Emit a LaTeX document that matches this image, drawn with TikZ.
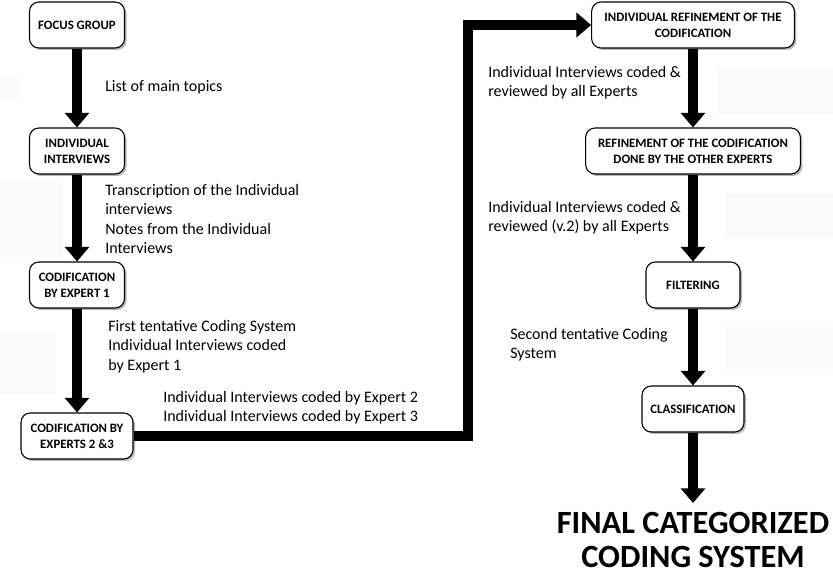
\documentclass[tikz,border=0pt]{standalone}
\usepackage{fontspec}
\setmainfont{Carlito}
\usetikzlibrary{arrows.meta,shadows}
\begin{document}
\begin{tikzpicture}[x=0.75pt,y=-0.75pt,
  box/.style={draw=black,line width=0.8pt,fill=white,rounded corners=7pt,align=center,
    inner sep=0pt,minimum height=34.5pt,font=\fontsize{9.6}{12}\selectfont\bfseries,
    drop shadow={shadow xshift=1.5pt,shadow yshift=-1.5pt,fill=black!40,opacity=0.7}},
  lbl/.style={anchor=north west,align=left,inner sep=0pt,font=\fontsize{12}{14.5}\selectfont},
  arr/.style={line width=7.5pt,line join=miter,-{Triangle[width=18pt,length=11pt]}},
  patch/.style={fill=black!1.8,draw=none}]
\useasboundingbox (0,0) rectangle (833,580);
% faint background patches
\fill[patch] (0,75) rectangle (20,100);
\fill[patch] (0,183) rectangle (62,258);
\fill[patch] (0,335) rectangle (56,395);
\fill[patch] (717,67) rectangle (833,115);
\fill[patch] (725,193) rectangle (833,238);
\fill[patch] (725,326) rectangle (833,370);
% boxes
\node[box,minimum width=71.25pt] (fg) at (77,25) {FOCUS GROUP};
\node[box,minimum width=71.25pt] (ii) at (77,151) {INDIVIDUAL\\INTERVIEWS};
\node[box,minimum width=71.25pt] (e1) at (77,285) {CODIFICATION\\BY EXPERT 1};
\node[box,minimum width=84pt] (e23) at (77,436) {CODIFICATION BY\\EXPERTS 2 \&3};
\node[box,minimum width=152pt] (r1) at (693,25) {INDIVIDUAL REFINEMENT OF THE\\CODIFICATION};
\node[box,minimum width=161pt] (r2) at (693,151) {REFINEMENT OF THE CODIFICATION\\DONE BY THE OTHER EXPERTS};
\node[box,minimum width=70.5pt] (fi) at (693,285) {FILTERING};
\node[box,minimum width=76.5pt] (cl) at (693,409) {CLASSIFICATION};
\node[align=center,inner sep=0pt,font=\fontsize{24.3}{25.5}\selectfont\bfseries] (fin) at (693,540) {FINAL CATEGORIZED\\CODING SYSTEM};
\coordinate (finTop) at (693,503);
% arrows
\draw[arr] (fg) -- (ii);
\draw[arr] (ii) -- (e1);
\draw[arr] (e1) -- (e23);
\draw[arr] (e23.east) -- ++(334,0) |- (r1.west);
\draw[arr] (r1) -- (r2);
\draw[arr] (r2) -- (fi);
\draw[arr] (fi) -- (cl);
\draw[arr] (cl) -- (finTop);
% labels
\node[lbl] (t1) at (105,80) {List of main topics};
\node[lbl] (t2) at (105,184) {Transcription of the Individual\\interviews\\Notes from the Individual\\Interviews};
\node[lbl] (t3) at (108,320) {First tentative Coding System\\Individual Interviews coded\\by Expert 1};
\node[lbl] (t4) at (163,391) {Individual Interviews coded by Expert 2\\Individual Interviews coded by Expert 3};
\node[lbl] (t5) at (488,66) {Individual Interviews coded \&\\reviewed by all Experts};
\node[lbl] (t6) at (488,201) {Individual Interviews coded \&\\reviewed (v.2) by all Experts};
\node[lbl] (t7) at (510,328) {Second tentative Coding\\System};
\end{tikzpicture}
\end{document}
